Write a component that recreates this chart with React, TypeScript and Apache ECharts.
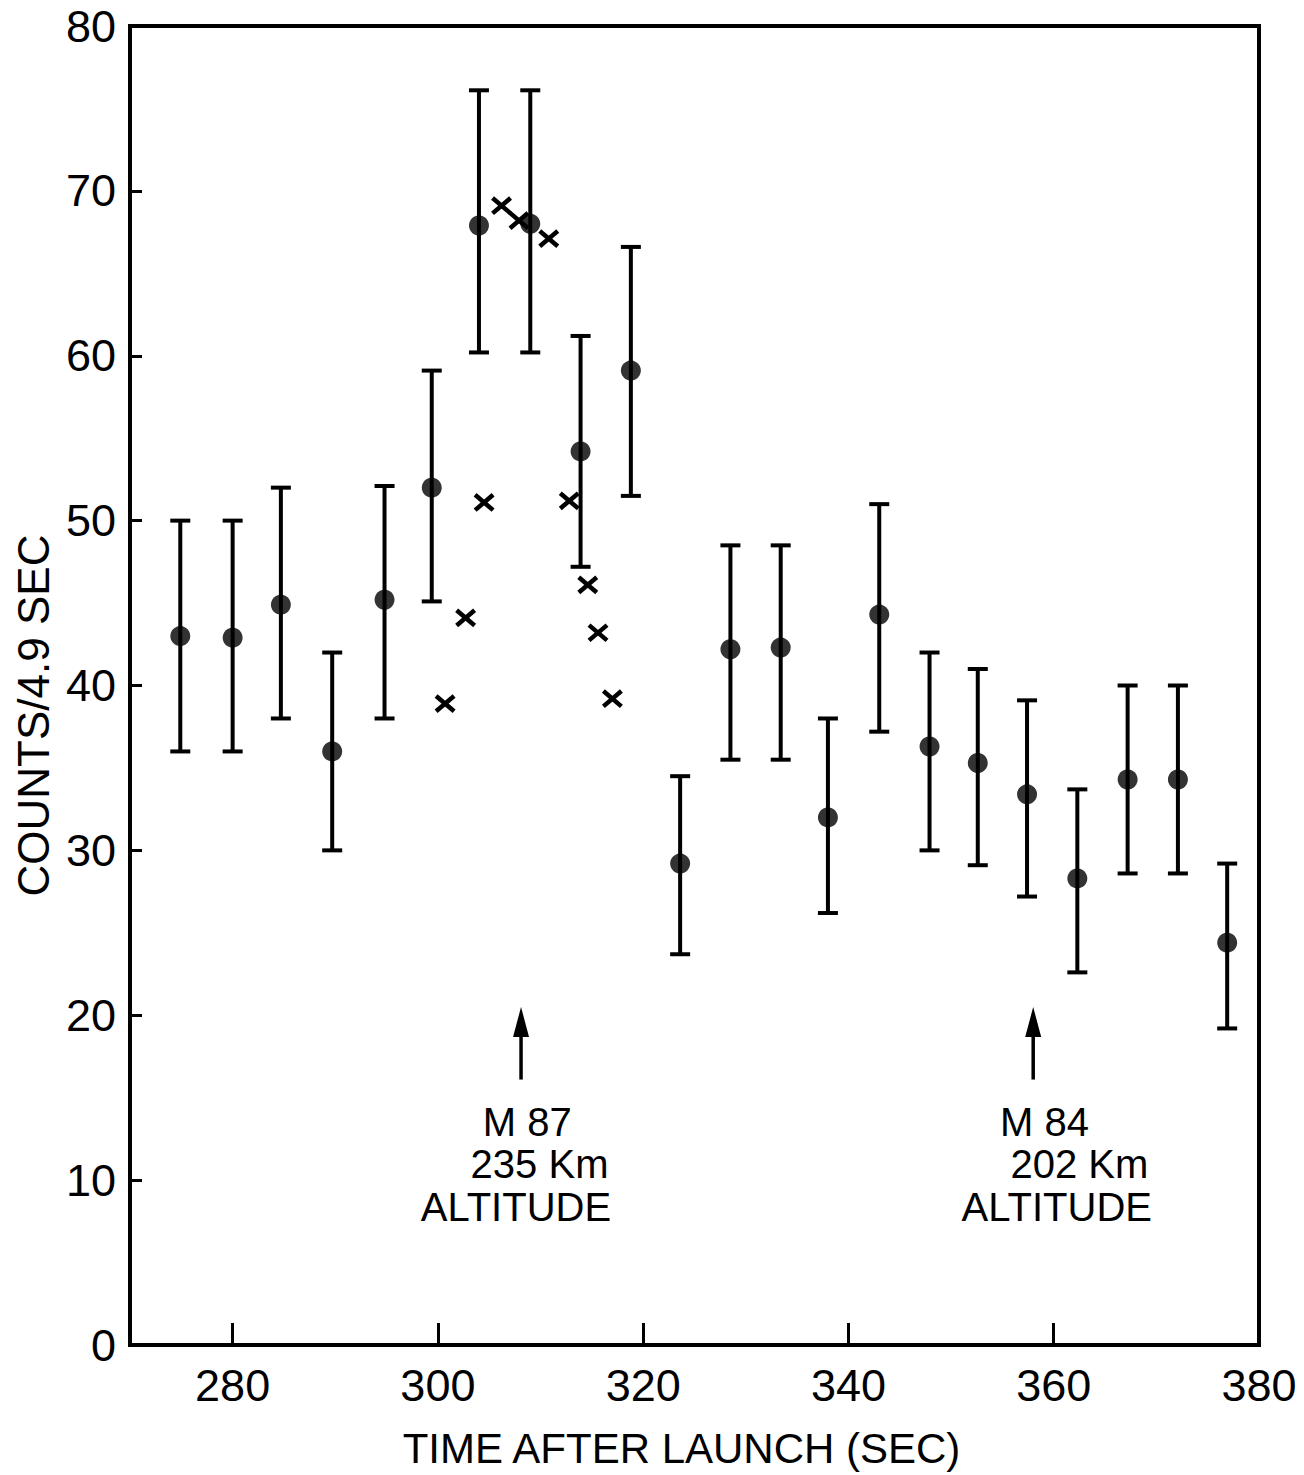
import React, { useEffect, useRef } from "react";
import * as echarts from "echarts";

// Measured data (time after launch in s, counts per 4.9 s)
const pointTimes = [274.9, 280.0, 284.7, 289.7, 294.8, 299.4, 304.0, 309.0, 313.9, 318.8, 323.6, 328.5, 333.4, 338.0, 343.0, 347.9, 352.6, 357.4, 362.3, 367.2, 372.1, 376.9];
const pointCounts = [43.0, 42.9, 44.9, 36.0, 45.2, 52.0, 67.9, 68.0, 54.2, 59.1, 29.2, 42.2, 42.3, 32.0, 44.3, 36.3, 35.3, 33.4, 28.3, 34.3, 34.3, 24.4];
const errorHigh = [50.0, 50.0, 52.0, 42.0, 52.1, 59.1, 76.1, 76.1, 61.2, 66.6, 34.5, 48.5, 48.5, 38.0, 51.0, 42.0, 41.0, 39.1, 33.7, 40.0, 40.0, 29.2];
const errorLow = [36.0, 36.0, 38.0, 30.0, 38.0, 45.1, 60.2, 60.2, 47.2, 51.5, 23.7, 35.5, 35.5, 26.2, 37.2, 30.0, 29.1, 27.2, 22.6, 28.6, 28.6, 19.2];

const crossTimes = [300.7, 302.7, 304.5, 306.2, 307.9, 310.8, 312.8, 314.6, 315.6, 317.0];
const crossCounts = [38.9, 44.1, 51.1, 69.1, 68.2, 67.1, 51.2, 46.1, 43.2, 39.2];

const xTickValues = [280, 300, 320, 340, 360, 380];

const arrowTimes = [308.1, 358.0];
const arrowBase = [16.1, 16.1];
const arrowTip = [20.5, 20.5];

const annotationTexts = ["M 87", "235 Km", "ALTITUDE", "M 84", "202 Km", "ALTITUDE"];
const annotationTimes = [308.7, 309.9, 307.6, 359.1, 362.5, 360.3];
const annotationCounts = [13.5, 11.0, 8.4, 13.5, 11.0, 8.4];

const FONT = "Liberation Sans";

export default function App() {
  const ref = useRef<HTMLDivElement>(null);

  useEffect(() => {
    document.body.style.margin = "0";
    if (!ref.current) return;
    const chart = echarts.init(ref.current, undefined, { renderer: "svg" });

    const errData = pointTimes.map((t, i) => [t, errorLow[i], errorHigh[i]]);
    const pointData = pointTimes.map((t, i) => [t, pointCounts[i]]);
    const crossData = crossTimes.map((t, i) => [t, crossCounts[i]]);
    const arrowData = arrowTimes.map((t, i) => [t, arrowBase[i], arrowTip[i]]);
    const textData = annotationTimes.map((t, i) => [t, annotationCounts[i]]);

    const option: any = {
      animation: false,
      backgroundColor: "#fff",
      grid: {
        left: 130,
        right: 45,
        top: 26,
        bottom: 130,
        show: true,
        borderColor: "#000",
        borderWidth: 4,
        containLabel: false,
        outerBoundsMode: "none",
      },
      xAxis: {
        type: "value",
        min: 270,
        max: 380,
        interval: 10,
        name: "TIME AFTER LAUNCH (SEC)",
        nameLocation: "middle",
        nameGap: 82,
        nameTextStyle: { fontFamily: FONT, fontSize: 42, color: "#000", padding: [0, 26, 0, 0] },
        axisLine: { show: true, lineStyle: { color: "#000", width: 4 } },
        axisTick: {
          show: true,
          inside: true,
          length: 22,
          lineStyle: { color: "#000", width: 3 },
          customValues: xTickValues,
        },
        axisLabel: {
          show: true,
          margin: 18,
          fontFamily: FONT,
          fontSize: 45,
          color: "#000",
          customValues: xTickValues,
        },
        splitLine: { show: false },
      },
      yAxis: {
        type: "value",
        min: 0,
        max: 80,
        interval: 10,
        name: "COUNTS/4.9 SEC",
        nameLocation: "middle",
        nameGap: 70,
        nameRotate: 90,
        nameTextStyle: { fontFamily: FONT, fontSize: 44, color: "#000", padding: [0, 60, 0, 0] },
        axisLine: { show: true, lineStyle: { color: "#000", width: 4 } },
        axisTick: { show: true, inside: true, length: 12, lineStyle: { color: "#000", width: 3 } },
        axisLabel: { show: true, margin: 14, fontFamily: FONT, fontSize: 45, color: "#000" },
        splitLine: { show: false },
      },
      series: [
        {
          type: "custom",
          name: "error bars",
          data: errData,
          encode: { x: 0, y: [1, 2] },
          z: 2,
          renderItem: (params: any, api: any) => {
            const x = api.value(0);
            const lo = api.coord([x, api.value(1)]);
            const hi = api.coord([x, api.value(2)]);
            const half = 10;
            const st = { stroke: "#000", lineWidth: 4 };
            return {
              type: "group",
              children: [
                { type: "line", shape: { x1: hi[0], y1: hi[1], x2: lo[0], y2: lo[1] }, style: st },
                { type: "line", shape: { x1: hi[0] - half, y1: hi[1], x2: hi[0] + half, y2: hi[1] }, style: st },
                { type: "line", shape: { x1: lo[0] - half, y1: lo[1], x2: lo[0] + half, y2: lo[1] }, style: st },
              ],
            };
          },
        },
        {
          type: "scatter",
          name: "counts",
          data: pointData,
          symbol: "circle",
          symbolSize: 20,
          itemStyle: { color: "#000" },
          z: 3,
        },
        {
          type: "custom",
          name: "crosses",
          data: crossData,
          z: 3,
          renderItem: (params: any, api: any) => {
            const c = api.coord([api.value(0), api.value(1)]);
            const h = 9;
            const st = { stroke: "#000", lineWidth: 4.5 };
            return {
              type: "group",
              children: [
                { type: "line", shape: { x1: c[0] - h, y1: c[1] - h * 0.85, x2: c[0] + h, y2: c[1] + h * 0.85 }, style: st },
                { type: "line", shape: { x1: c[0] - h, y1: c[1] + h * 0.85, x2: c[0] + h, y2: c[1] - h * 0.85 }, style: st },
              ],
            };
          },
        },
        {
          type: "custom",
          name: "arrows",
          data: arrowData,
          encode: { x: 0, y: [1, 2] },
          z: 3,
          renderItem: (params: any, api: any) => {
            const x = api.value(0);
            const base = api.coord([x, api.value(1)]);
            const tip = api.coord([x, api.value(2)]);
            return {
              type: "group",
              children: [
                { type: "line", shape: { x1: base[0], y1: base[1], x2: tip[0], y2: tip[1] + 20 }, style: { stroke: "#000", lineWidth: 3.5 } },
                {
                  type: "polygon",
                  shape: { points: [[tip[0], tip[1]], [tip[0] - 8, tip[1] + 30], [tip[0] + 8, tip[1] + 30]] },
                  style: { fill: "#000" },
                },
              ],
            };
          },
        },
        {
          type: "custom",
          name: "annotations",
          data: textData,
          z: 3,
          renderItem: (params: any, api: any) => {
            const c = api.coord([api.value(0), api.value(1)]);
            return {
              type: "text",
              x: c[0],
              y: c[1],
              style: {
                text: annotationTexts[params.dataIndex],
                fontFamily: FONT,
                fontSize: 40,
                fill: "#000",
                align: "center",
                verticalAlign: "middle",
              },
            };
          },
        },
      ],
    };

    chart.setOption(option);
    return () => chart.dispose();
  }, []);

  return <div ref={ref} style={{ width: 1304, height: 1475 }} />;
}
